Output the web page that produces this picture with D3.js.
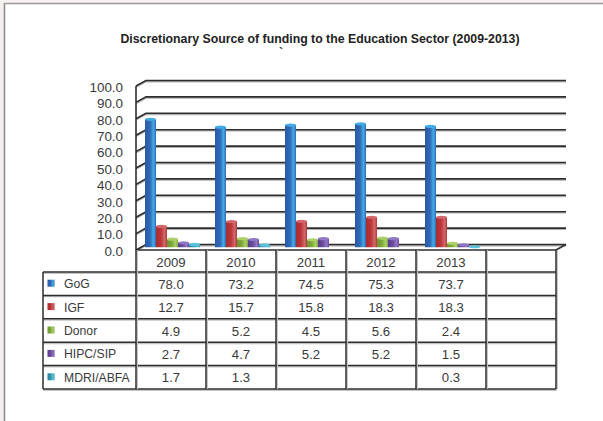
<!DOCTYPE html>
<html>
<head>
<meta charset="utf-8">
<script src="https://cdn.jsdelivr.net/npm/d3@7"></script>
<style>
  html, body { margin: 0; padding: 0; background: #ffffff; }
  svg { display: block; font-family: "Liberation Sans", Arial, Helvetica, sans-serif; }
</style>
</head>
<body>
<svg id="chart" width="603" height="421"></svg>
<script>
// Funding shares (%) by source, 2009-2013; the trailing empty column is kept as in the table
const years = ["2009", "2010", "2011", "2012", "2013", ""];
const seriesNames = ["GoG", "IGF", "Donor", "HIPC/SIP", "MDRI/ABFA"];
const gog   = [78.0, 73.2, 74.5, 75.3, 73.7, null];
const igf   = [12.7, 15.7, 15.8, 18.3, 18.3, null];
const donor = [4.9, 5.2, 4.5, 5.6, 2.4, null];
const hipc  = [2.7, 4.7, 5.2, 5.2, 1.5, null];
const mdri  = [1.7, 1.3, null, null, 0.3, null];
const yTicks = [0, 10, 20, 30, 40, 50, 60, 70, 80, 90, 100];
const titleText = "Discretionary Source of funding to the Education Sector (2009-2013)";

const seriesValues = [gog, igf, donor, hipc, mdri];
const palette = [
  { dark: "#2a5aa6", mid: "#2f68b6", light: "#43aae6" },
  { dark: "#a82c31", mid: "#bb3539", light: "#d0686b" },
  { dark: "#6b9530", mid: "#7ea83c", light: "#acd06a" },
  { dark: "#5a3d8c", mid: "#6b4a9e", light: "#9077c4" },
  { dark: "#2a8099", mid: "#3596b0", light: "#5cc4da" }
];

const svg = d3.select("#chart");
const ink = "#2e2e2e";
const textColor = "#3a3a3a";

// page frame: pale strip with grey left and top rules
svg.append("rect").attr("x", 0).attr("y", 0).attr("width", 4).attr("height", 421).attr("fill", "#f5eeee");
svg.append("rect").attr("x", 0).attr("y", 0).attr("width", 603).attr("height", 3).attr("fill", "#f7f2f2");
svg.append("line").attr("x1", 4.5).attr("x2", 4.5).attr("y1", 3).attr("y2", 421)
  .attr("stroke", "#8a8a8a").attr("stroke-width", 1.5);
svg.append("line").attr("x1", 4).attr("x2", 603).attr("y1", 3.5).attr("y2", 3.5)
  .attr("stroke", "#a09a9a").attr("stroke-width", 1.5);

// gradients giving the bars a cylindrical look
const defs = svg.append("defs");
palette.forEach((c, i) => {
  const g = defs.append("linearGradient").attr("id", "grad" + i)
    .attr("x1", "0%").attr("x2", "100%").attr("y1", "0%").attr("y2", "0%");
  g.append("stop").attr("offset", "0%").attr("stop-color", c.dark);
  g.append("stop").attr("offset", "45%").attr("stop-color", c.mid);
  g.append("stop").attr("offset", "78%").attr("stop-color", c.light);
  g.append("stop").attr("offset", "100%").attr("stop-color", c.mid);
});

// title
svg.append("text").attr("x", 320).attr("y", 43).attr("text-anchor", "middle")
  .attr("font-size", 12.3).attr("font-weight", "bold").attr("fill", "#222")
  .text(titleText);
svg.append("text").attr("x", 281).attr("y", 57).attr("text-anchor", "middle")
  .attr("font-size", 12).attr("font-weight", "bold").attr("fill", "#333").text("`");

// scales: front plane of the 3-D box, with a small depth offset to the back wall
const dx = 10, dy = -5.5;
const x = d3.scaleBand().domain(years).range([136, 556]);
const y = d3.scaleLinear().domain([0, 100]).range([250, 86]);
const xs = d3.scaleBand().domain(seriesNames).range([4, 59]);
const rowY = d3.scaleBand().domain(seriesNames).range([272, 389]);

// wall gridlines: short diagonal on the side wall, then across the back wall
const grid = svg.append("g");
yTicks.forEach(v => {
  const yf = y(v), yb = y(v) + dy;
  const pts = [[136, yf], [136 + dx, yb], [556 + dx, yb]];
  grid.append("polyline").attr("points", pts.map(p => [p[0], p[1] + 1.2].join(",")).join(" "))
    .attr("fill", "none").attr("stroke", "#b0b0b0").attr("stroke-width", 1.4);
  grid.append("polyline").attr("points", pts.map(p => p.join(",")).join(" "))
    .attr("fill", "none").attr("stroke", ink).attr("stroke-width", 1.6);
});
// front vertical edge and right floor edge
grid.append("line").attr("x1", 136).attr("x2", 136).attr("y1", y(100)).attr("y2", 250)
  .attr("stroke", ink).attr("stroke-width", 1.6);
grid.append("line").attr("x1", 556).attr("x2", 556 + dx).attr("y1", 250).attr("y2", 250 + dy)
  .attr("stroke", ink).attr("stroke-width", 1.6);

// y axis labels
const yAxis = d3.axisLeft(y).tickValues(yTicks).tickFormat(d3.format(".1f"))
  .tickSize(0).tickPadding(13);
const yg = svg.append("g").attr("transform", "translate(136,1)").call(yAxis);
yg.select(".domain").remove();
yg.selectAll("text").attr("font-size", 13.4).attr("fill", textColor)
  .attr("font-family", "'Liberation Sans', Arial, sans-serif");

// bars at mid depth
const bars = svg.append("g");
seriesValues.forEach((vals, si) => {
  years.forEach((yr, ci) => {
    const v = vals[ci];
    if (v === null || v === undefined) return;
    const bx = x(yr) + xs(seriesNames[si]) + dx / 2;
    const bw = xs.bandwidth();
    const yb = y(0) + dy / 2;
    const yt = y(v) + dy / 2;
    bars.append("rect").attr("x", bx).attr("y", yt).attr("width", bw).attr("height", yb - yt)
      .attr("fill", "url(#grad" + si + ")");
    bars.append("ellipse").attr("cx", bx + bw / 2).attr("cy", yt).attr("rx", bw / 2).attr("ry", 1.6)
      .attr("fill", palette[si].light);
  });
});

// data table
const table = svg.append("g");
const lineStyle = sel => sel.attr("stroke", ink).attr("stroke-width", 1.5);
const shadow = sel => sel.attr("stroke", "#c4c4c4").attr("stroke-width", 1.5);
const rowEdges = [272].concat(seriesNames.map(s => rowY(s) + rowY.bandwidth()));
// horizontal rules
table.append("line").attr("x1", 136).attr("x2", 556).attr("y1", 250).attr("y2", 250).call(lineStyle);
rowEdges.forEach(ry => {
  table.append("line").attr("x1", 43).attr("x2", 557).attr("y1", ry + 1.2).attr("y2", ry + 1.2).call(shadow);
  table.append("line").attr("x1", 43).attr("x2", 556).attr("y1", ry).attr("y2", ry).call(lineStyle);
});
// vertical rules
const colEdges = years.map(yr => x(yr)).concat([x(years[years.length - 1]) + x.bandwidth()]);
colEdges.forEach(cx => {
  table.append("line").attr("x1", cx + 1.2).attr("x2", cx + 1.2).attr("y1", 250).attr("y2", 389).call(shadow);
  table.append("line").attr("x1", cx).attr("x2", cx).attr("y1", 250).attr("y2", 389).call(lineStyle);
});
table.append("line").attr("x1", 43).attr("x2", 43).attr("y1", 272).attr("y2", 389).call(lineStyle);

// header years
years.forEach(yr => {
  table.append("text").attr("x", x(yr) + x.bandwidth() / 2).attr("y", 267)
    .attr("text-anchor", "middle").attr("font-size", 13.2).attr("fill", textColor).text(yr);
});

// legend keys, series names and values
seriesNames.forEach((s, si) => {
  const cy = rowY(s) + rowY.bandwidth() / 2;
  table.append("rect").attr("x", 47.5).attr("y", cy - 4).attr("width", 7).attr("height", 7)
    .attr("fill", "url(#grad" + si + ")");
  table.append("text").attr("x", 64).attr("y", cy + 4.5).attr("font-size", 12.2)
    .attr("fill", textColor).text(s);
  years.forEach((yr, ci) => {
    const v = seriesValues[si][ci];
    if (v === null || v === undefined) return;
    table.append("text").attr("x", x(yr) + x.bandwidth() / 2).attr("y", cy + 5)
      .attr("text-anchor", "middle").attr("font-size", 13.2).attr("fill", textColor)
      .text(d3.format(".1f")(v));
  });
});
</script>
</body>
</html>
